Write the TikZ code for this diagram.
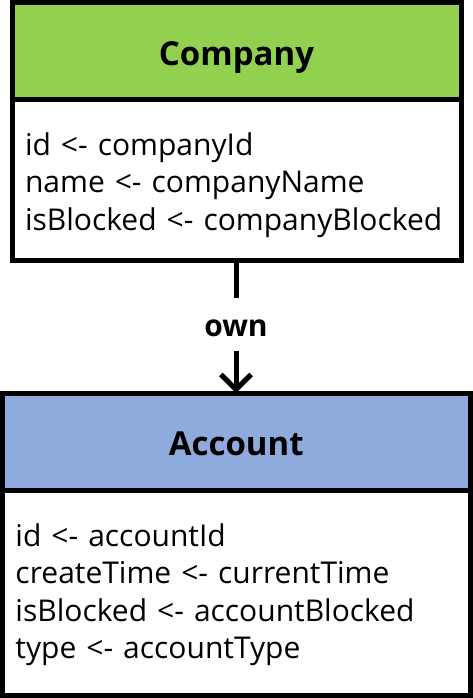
\documentclass[tikz,border=0pt]{standalone}
\usepackage{fontspec}
\setmainfont{Open Sans}
\usepackage{tikz}
\usetikzlibrary{arrows.meta, positioning}

\begin{document}
\begin{tikzpicture}[
    x=1pt, y=-1pt,
    head/.style={draw, rectangle, line width=5pt, outer sep=0pt, font=\fontsize{33}{38}\selectfont\bfseries, text height=28pt, text depth=0pt},
    body/.style={draw, rectangle, line width=5pt, outer sep=0pt, align=left, inner xsep=13pt, font=\fontsize{30}{37.6}\selectfont},
    grn/.style={fill={rgb,255:red,146;green,208;blue,80}},
    blu/.style={fill={rgb,255:red,143;green,170;blue,220}},
    lbl/.style={font=\fontsize{30}{36}\selectfont\bfseries, inner sep=0pt, minimum height=53pt, text height=23pt, text depth=0pt},
    arrow/.style={line width=5pt, -{Straight Barb[length=15pt, width=30pt]}}
]
\useasboundingbox (0,0) rectangle (473,698);
% 1. Company class
\node[head, grn, minimum width=449pt, minimum height=97.5pt] (comp) at (236.5,51.25) {Company};
\node[body, below=0pt of comp, minimum width=449pt, minimum height=160pt, text width=423pt] (compbody) {\rule{0pt}{33pt}id <- companyId\\ name <- companyName\\ isBlocked <- companyBlocked};
% 2. Account class
\node[head, blu, minimum width=467.5pt, minimum height=97pt] (acct) at (236.25,441.5) {Account};
\node[body, below=0pt of acct, minimum width=467.5pt, minimum height=205pt, text width=441.5pt] (acctbody) {\rule{0pt}{27pt}id <- accountId\\ createTime <- currentTime\\ isBlocked <- accountBlocked\\ type <- accountType};
% 3. Relation label
\node[lbl] (own) at (236,324.5) {own};
% --- Connections ---
\draw[line width=5pt] (compbody.south -| own) -- (own);
\draw[arrow] (own) -- (acct.north -| own);
\end{tikzpicture}
\end{document}
